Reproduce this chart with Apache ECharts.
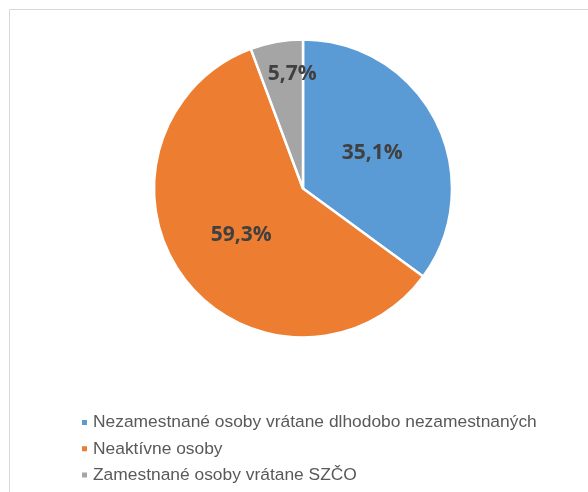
<!DOCTYPE html>
<html>
<head>
<meta charset="utf-8">
<script src="https://cdn.jsdelivr.net/npm/echarts@6/dist/echarts.min.js"></script>
<style>
  html, body { margin: 0; padding: 0; background: #ffffff; }
  #chart { width: 588px; height: 492px; }
</style>
</head>
<body>
<div id="chart"></div>
<script>
// Categories and their shares (percent)
const categories = [
  'Nezamestnané osoby vrátane dlhodobo nezamestnaných',
  'Neaktívne osoby',
  'Zamestnané osoby vrátane SZČO'
];
const shares = [35.1, 59.3, 5.7];
const sliceColors = ['#5b9bd5', '#ed7d31', '#a5a5a5'];

const chart = echarts.init(document.getElementById('chart'), null, { renderer: 'canvas' });

const pieData = categories.map((name, i) => {
  const item = { name: name, value: shares[i], itemStyle: { color: sliceColors[i] } };
  // the narrow slice keeps its label near the rim
  if (i === 2) item.label = { offset: [3, -38] };
  return item;
});

chart.setOption({
  backgroundColor: '#ffffff',
  animation: false,
  graphic: [{
    type: 'rect',
    shape: { x: 9.5, y: 9.5, width: 620, height: 520 },
    style: { fill: 'none', stroke: '#d9d9d9', lineWidth: 1 },
    silent: true,
    z: -1
  }],
  legend: {
    orient: 'vertical',
    left: 80,
    top: 414,
    padding: 0,
    icon: 'rect',
    itemWidth: 7,
    itemHeight: 7,
    itemGap: 9.3,
    data: categories,
    textStyle: {
      fontFamily: 'Liberation Sans, Arial, sans-serif',
      fontSize: 17.4,
      color: '#595959'
    }
  },
  series: [{
    type: 'pie',
    center: [303, 188.5],
    radius: [0, 149],
    startAngle: 90,
    clockwise: true,
    avoidLabelOverlap: false,
    itemStyle: { borderColor: '#ffffff', borderWidth: 2.5 },
    label: {
      show: true,
      position: 'inside',
      formatter: p => p.value.toFixed(1).replace('.', ',') + '%',
      fontFamily: 'Open Sans, sans-serif',
      fontWeight: 'bold',
      fontSize: 21,
      color: '#404040'
    },
    labelLine: { show: false },
    emphasis: { disabled: true },
    data: pieData
  }]
});
</script>
</body>
</html>
